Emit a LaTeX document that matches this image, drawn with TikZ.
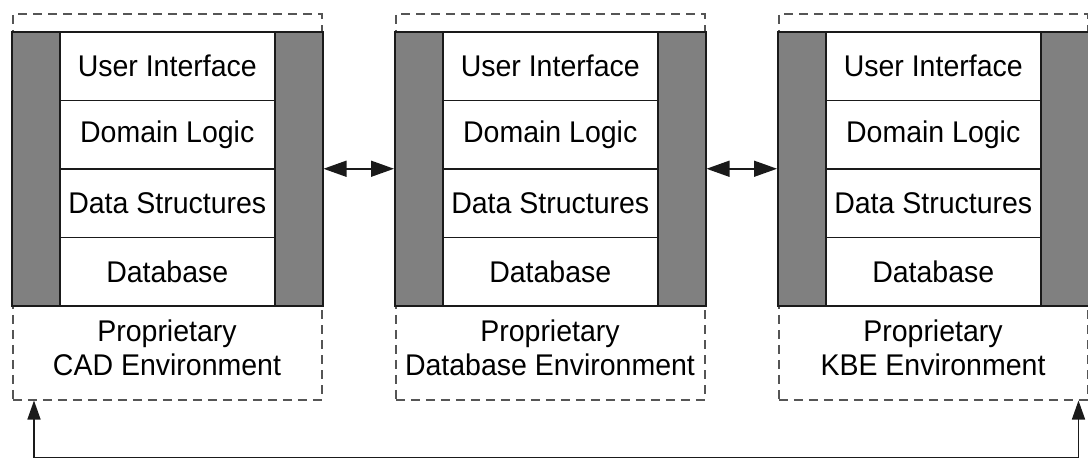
\documentclass[tikz,border=0pt]{standalone}
\usepackage{fontspec}
\setmainfont{Liberation Sans}
\usetikzlibrary{arrows.meta}
\definecolor{linec}{HTML}{1A1A1A}
\definecolor{dashc}{HTML}{555555}
\definecolor{grayfill}{HTML}{808080}
\newcommand{\tallt}[1]{\scalebox{1.0}[1.05]{#1}}
\tikzset{
  envbox/.style={draw=dashc, line width=1.5pt, dash pattern=on 9pt off 6pt, minimum width=309pt, minimum height=386pt, inner sep=0pt, anchor=north west},
  sidebar/.style={draw=linec, line width=1.5pt, fill=grayfill, minimum width=48pt, minimum height=274pt, inner sep=0pt, anchor=north west},
  layer/.style={draw=linec, line width=1.5pt, fill=white, minimum width=215pt, minimum height=68.5pt, inner sep=0pt, anchor=north west, font=\fontsize{28.5}{33}\selectfont},
  envlabel/.style={align=center, inner sep=0pt, font=\fontsize{28.5}{34}\selectfont},
  dblarrow/.style={draw=linec, line width=1.5pt, {Triangle[length=23pt,width=16pt]}-{Triangle[length=23pt,width=16pt]}},
  looparrow/.style={draw=linec, line width=1.5pt, {Triangle[length=19pt,width=13pt]}-{Triangle[length=19pt,width=13pt]}}
}
\begin{document}
\begin{tikzpicture}[x=1pt,y=-1pt]
\useasboundingbox (0,0) rectangle (1088,458);
\foreach \i/\x/\lab in {1/11/CAD Environment, 2/394/Database Environment, 3/777/KBE Environment}{
  \node[envbox] (env\i) at (\x+1,13) {};
  \node[sidebar] (l\i) at (\x,31) {};
  \node[sidebar] (r\i) at (\x+263,31) {};
  \node[layer] (ui\i) at (\x+48,31) {\tallt{User Interface}};
  \node[layer] (dl\i) at (\x+48,99.5) {\tallt{Domain Logic}};
  \node[layer] (ds\i) at (\x+48,168) {\tallt{Data Structures}};
  \node[layer] (db\i) at (\x+48,236.5) {\tallt{Database}};
  \node[envlabel] (lab\i) at (\x+156,348) {\tallt{Proprietary}\\\tallt{\lab}};
}
\draw[dblarrow] (r1.east) -- (l2.west);
\draw[dblarrow] (r2.east) -- (l3.west);
\draw[looparrow] ([xshift=22pt]env1.south west) -- ++(0,57) -| ([xshift=-10pt]env3.south east);
\end{tikzpicture}
\end{document}
